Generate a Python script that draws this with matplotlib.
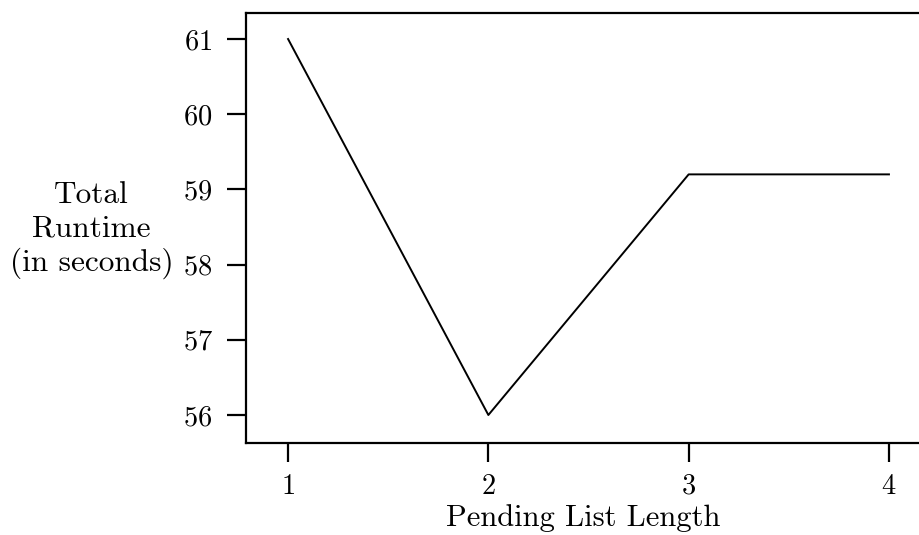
import matplotlib
matplotlib.use("Agg")
import matplotlib.pyplot as plt

# Data
list_length = [1, 2, 3, 4]
runtime = [61.0, 56.0, 59.2, 59.2]
yticks = [56, 57, 58, 59, 60, 61]

plt.rcParams['font.family'] = ['cmr10', 'DejaVu Serif']
plt.rcParams['axes.formatter.use_mathtext'] = True

fig = plt.figure(figsize=(9.2, 5.35), dpi=100)
ax = fig.add_axes([0.2674, 0.172, 0.7326, 0.8037])

ax.plot(list_length, runtime, color='black', linewidth=1.4)

ax.set_xlim(0.79, 4.155)
ax.set_ylim(55.628, 61.346)
ax.set_xticks(list_length)
ax.set_yticks(yticks)

for side in ['left', 'bottom', 'top']:
    ax.spines[side].set_linewidth(1.6)
ax.spines['right'].set_visible(False)

ax.tick_params(axis='both', direction='out', length=14, width=1.6,
               labelsize=20.5, colors='black')
ax.tick_params(axis='y', pad=10)
ax.tick_params(axis='x', pad=8)

ax.set_xlabel('Pending List Length', fontsize=22, labelpad=3)
ax.set_ylabel('Total\nRuntime\n(in seconds)', fontsize=22.5, rotation=0,
              ha='center', va='center', multialignment='center',
              linespacing=1.22)
ax.yaxis.set_label_coords(-0.229, 0.495)

fig.savefig('out.png', dpi=100)
